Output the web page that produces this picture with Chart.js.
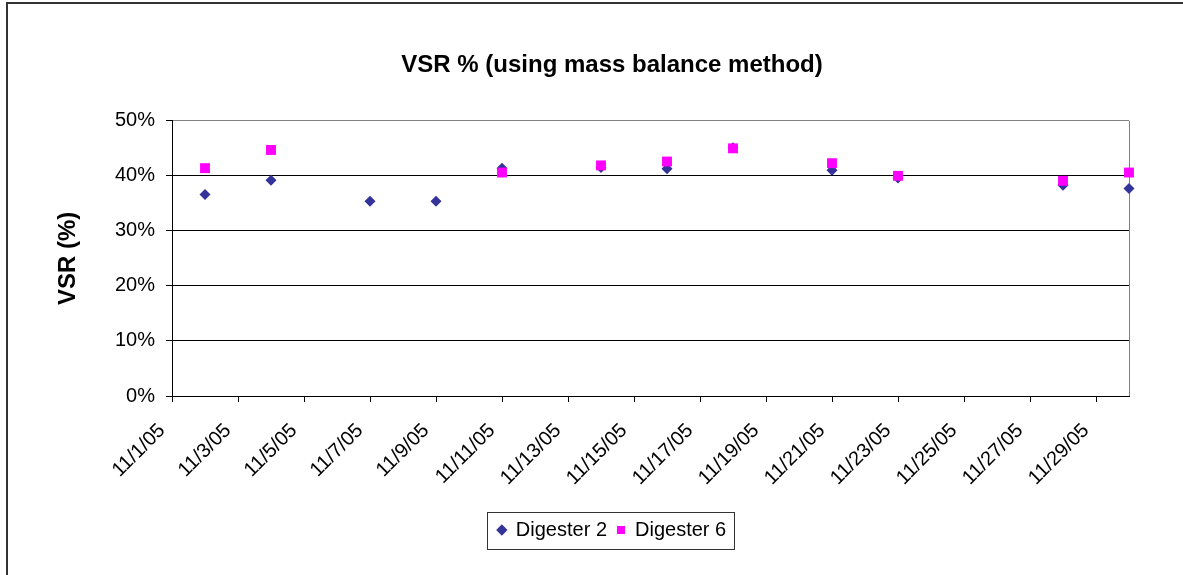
<!DOCTYPE html>
<html>
<head>
<meta charset="utf-8">
<title>VSR %</title>
<script src="https://cdn.jsdelivr.net/npm/chart.js@4.4.0/dist/chart.umd.min.js"></script>
<style>
  html, body { margin: 0; padding: 0; background: #fff; }
  #wrap { width: 1183px; height: 575px; }
</style>
</head>
<body>
<div id="wrap"><canvas id="vsrChart" width="1183" height="575"></canvas></div>
<script>
const chartTitle = 'VSR % (using mass balance method)';
const yAxisTitle = 'VSR (%)';
const seriesNames = ['Digester 2', 'Digester 6'];

// sample dates and VSR values (%)
const digester2Dates = ['11/2/05', '11/4/05', '11/7/05', '11/9/05', '11/11/05', '11/14/05',
                        '11/16/05', '11/18/05', '11/21/05', '11/23/05', '11/28/05', '11/30/05'];
const digester2Vsr = [36.6, 39.2, 35.4, 35.4, 41.4, 41.5, 41.3, 45.1, 41.0, 39.6, 38.3, 37.7];

const digester6Dates = ['11/2/05', '11/4/05', '11/11/05', '11/14/05', '11/16/05', '11/18/05',
                        '11/21/05', '11/23/05', '11/28/05', '11/30/05'];
const digester6Vsr = [41.4, 44.7, 40.6, 41.9, 42.6, 45.0, 42.3, 40.0, 39.1, 40.6];

const xTickLabels = ['11/1/05', '11/3/05', '11/5/05', '11/7/05', '11/9/05', '11/11/05', '11/13/05', '11/15/05',
                     '11/17/05', '11/19/05', '11/21/05', '11/23/05', '11/25/05', '11/27/05', '11/29/05'];
const xRange = ['11/1/05', '11/30/05'];
const yTickValues = [0, 10, 20, 30, 40, 50];

const FONT = 'Arial, "Liberation Sans", sans-serif';

// day of month from m/d/yy
function dayOf(label) {
  return Number(label.split('/')[1]);
}

function toPoints(dates, values) {
  return dates.map((d, i) => ({ x: dayOf(d), y: values[i] }));
}

const xTickDays = xTickLabels.map(dayOf);

const padLeft = 40;

const excelLook = {
  id: 'excelLook',
  beforeDraw(chart) {
    const ctx = chart.ctx;
    ctx.save();
    ctx.fillStyle = '#fff';
    ctx.fillRect(0, 0, chart.width, chart.height);
    // outer chart frame (runs off the right / bottom of the picture)
    ctx.strokeStyle = '#333';
    ctx.lineWidth = 2;
    ctx.strokeRect(7, 3, chart.width + 40, chart.height + 40);
    ctx.restore();
  },
  afterLayout(chart) {
    // title and legend are centred on the whole chart, which is wider than the window
    const target = 612;
    [chart.titleBlock, chart.legend].forEach(b => {
      const dx = target - (b.left + b.right) / 2;
      b.left += dx;
      b.right += dx;
    });
  },
  beforeDatasetsDraw(chart) {
    const { ctx, chartArea: a } = chart;
    ctx.save();
    ctx.strokeStyle = '#808080';
    ctx.lineWidth = 1;
    ctx.beginPath();
    ctx.moveTo(Math.round(a.right) + 0.5, a.top);
    ctx.lineTo(Math.round(a.right) + 0.5, a.bottom);
    ctx.stroke();
    ctx.restore();
  },
  afterDraw(chart) {
    const ctx = chart.ctx;
    const boxes = chart.legend.legendHitBoxes;
    if (!boxes || !boxes.length) return;
    const minX = Math.min(...boxes.map(b => b.left));
    const maxX = Math.max(...boxes.map(b => b.left + b.width));
    const midY = boxes[0].top + boxes[0].height / 2;
    ctx.save();
    ctx.strokeStyle = '#333';
    ctx.lineWidth = 1;
    ctx.strokeRect(Math.round(minX - 11) + 0.5, Math.round(midY - 18) + 0.5,
                   Math.round(maxX - minX + 19), 37);
    ctx.restore();
  }
};

const ctx = document.getElementById('vsrChart').getContext('2d');

new Chart(ctx, {
  type: 'scatter',
  data: {
    datasets: [
      {
        label: seriesNames[0],
        data: toPoints(digester2Dates, digester2Vsr),
        pointStyle: 'rectRot',
        pointRadius: 5.5,
        pointHoverRadius: 5.5,
        backgroundColor: '#333399',
        borderColor: '#333399',
        borderWidth: 0,
        order: 2
      },
      {
        label: seriesNames[1],
        data: toPoints(digester6Dates, digester6Vsr),
        pointStyle: 'rect',
        pointRadius: 7,
        pointHoverRadius: 7,
        backgroundColor: '#FF00FF',
        borderColor: '#FF00FF',
        borderWidth: 0,
        order: 1
      }
    ]
  },
  options: {
    responsive: false,
    animation: false,
    clip: false,
    layout: {
      padding: { left: padLeft, right: 54, top: 51, bottom: 25 }
    },
    scales: {
      x: {
        type: 'linear',
        min: dayOf(xRange[0]),
        max: dayOf(xRange[1]),
        afterBuildTicks(scale) {
          scale.ticks = xTickDays.map(v => ({ value: v }));
        },
        afterFit(scale) {
          scale.height = 114;
        },
        grid: {
          drawOnChartArea: false,
          drawTicks: true,
          tickLength: 6,
          color: '#000',
          tickColor: '#000'
        },
        border: { color: '#000', width: 1 },
        ticks: {
          autoSkip: false,
          minRotation: 45,
          maxRotation: 45,
          padding: 17,
          labelOffset: -10,
          color: '#000',
          font: { family: FONT, size: 20 },
          callback: (v, i) => xTickLabels[i]
        }
      },
      y: {
        min: yTickValues[0],
        max: yTickValues[yTickValues.length - 1],
        afterBuildTicks(scale) {
          scale.ticks = yTickValues.map(v => ({ value: v }));
        },
        afterFit(scale) {
          scale.width = 172 - padLeft;
        },
        grid: {
          color: c => (c.tick && c.tick.value === 50 ? '#808080' : '#000'),
          tickColor: '#000',
          tickLength: 6
        },
        border: { color: '#000', width: 1 },
        ticks: {
          padding: 11,
          color: '#000',
          font: { family: FONT, size: 20 },
          callback: v => v + '%'
        },
        title: {
          display: true,
          text: yAxisTitle,
          color: '#000',
          font: { family: FONT, size: 24, weight: 'bold' },
          padding: { top: 14, bottom: 0 }
        }
      }
    },
    plugins: {
      title: {
        display: true,
        text: chartTitle,
        color: '#000',
        font: { family: FONT, size: 24, weight: 'bold' },
        padding: { top: 0, bottom: 41 }
      },
      legend: {
        position: 'bottom',
        labels: {
          usePointStyle: true,
          boxWidth: 8,
          boxHeight: 8,
          padding: 10,
          color: '#000',
          font: { family: FONT, size: 20 },
          sort: (a, b) => a.datasetIndex - b.datasetIndex
        }
      },
      tooltip: { enabled: false }
    }
  },
  plugins: [excelLook]
});
</script>
</body>
</html>
